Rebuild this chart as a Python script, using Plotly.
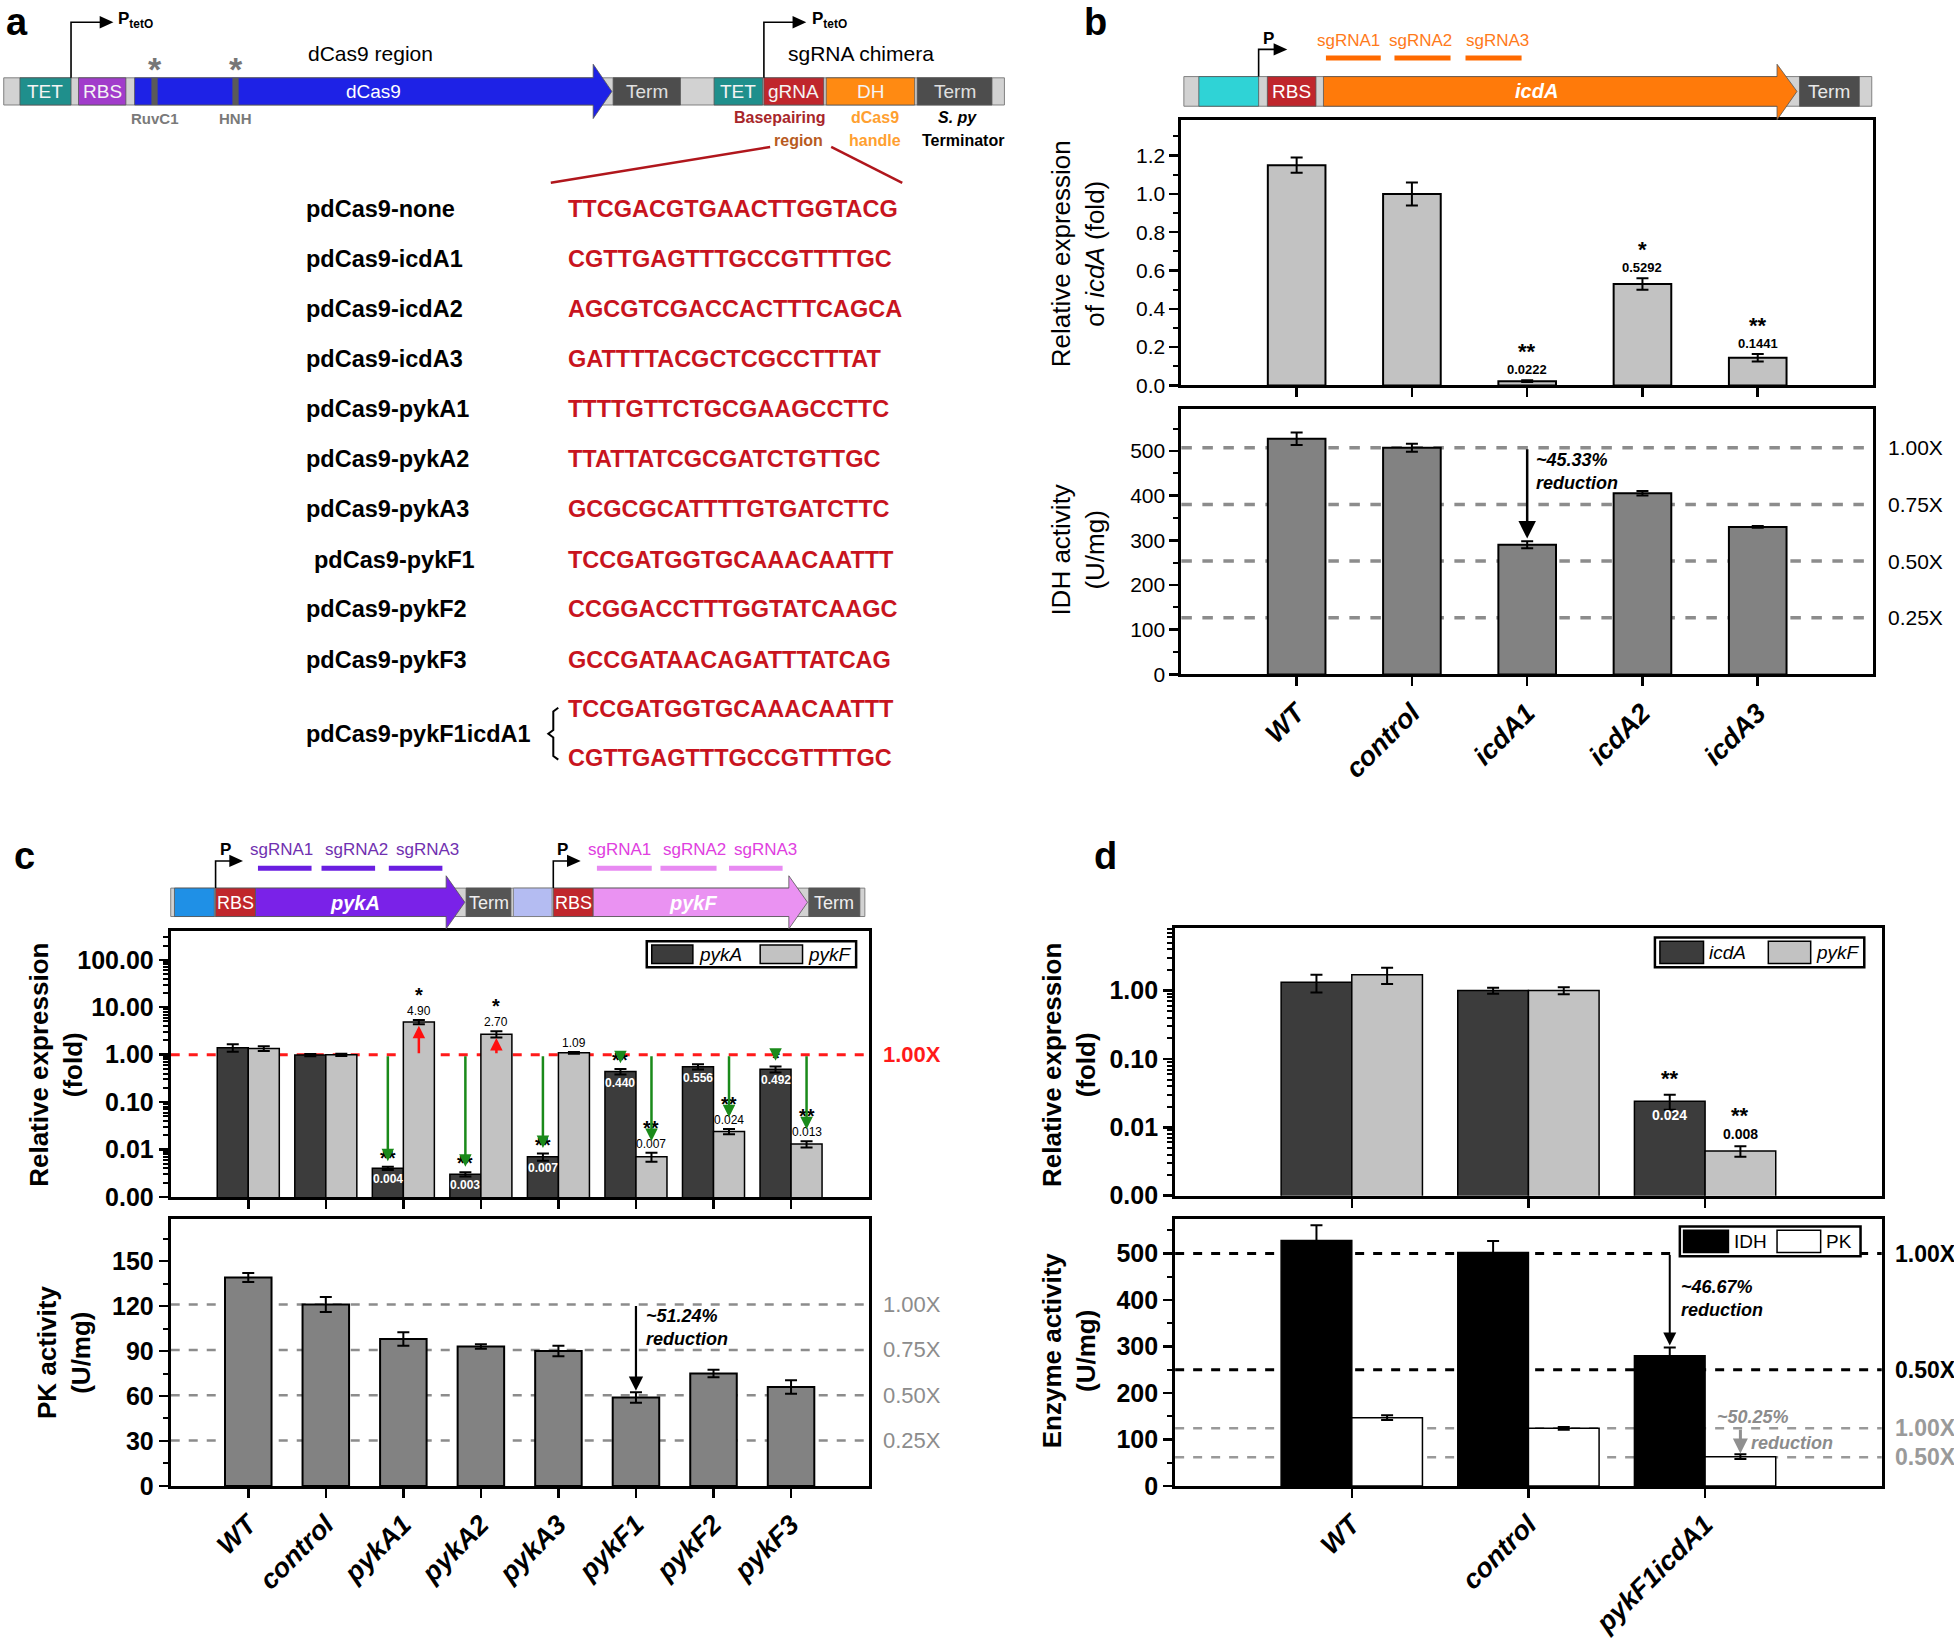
import math
import plotly.graph_objects as go

# ============================ DATA ============================
# panel a : spacer table
strain_names = ['pdCas9-none', 'pdCas9-icdA1', 'pdCas9-icdA2', 'pdCas9-icdA3', 'pdCas9-pykA1',
                'pdCas9-pykA2', 'pdCas9-pykA3', 'pdCas9-pykF1', 'pdCas9-pykF2', 'pdCas9-pykF3']
spacer_seqs = ['TTCGACGTGAACTTGGTACG', 'CGTTGAGTTTGCCGTTTTGC', 'AGCGTCGACCACTTTCAGCA',
               'GATTTTACGCTCGCCTTTAT', 'TTTTGTTCTGCGAAGCCTTC', 'TTATTATCGCGATCTGTTGC',
               'GCGCGCATTTTGTGATCTTC', 'TCCGATGGTGCAAACAATTT', 'CCGGACCTTTGGTATCAAGC',
               'GCCGATAACAGATTTATCAG']
double_name = 'pdCas9-pykF1icdA1'
double_seqs = ['TCCGATGGTGCAAACAATTT', 'CGTTGAGTTTGCCGTTTTGC']

# panel b
cats_b = ['WT', 'control', 'icdA1', 'icdA2', 'icdA3']
icdA_expr_b = [1.15, 1.00, 0.0222, 0.5292, 0.1441]
icdA_expr_b_err = [0.04, 0.06, 0.004, 0.03, 0.02]
icdA_expr_b_lbl = ['', '', '0.0222', '0.5292', '0.1441']
icdA_expr_b_sig = ['', '', '**', '*', '**']
idh_act_b = [527, 507, 290, 405, 330]
idh_act_b_err = [14, 9, 8, 5, 2]
fold_marks = [1.00, 0.75, 0.50, 0.25]
fold_labels = ['1.00X', '0.75X', '0.50X', '0.25X']

# panel c
cats_c = ['WT', 'control', 'pykA1', 'pykA2', 'pykA3', 'pykF1', 'pykF2', 'pykF3']
pykA_expr_c = [1.40, 0.98, 0.004, 0.003, 0.007, 0.440, 0.556, 0.492]
pykA_expr_c_err = [0.25, 0.05, 0.0003, 0.0003, 0.0012, 0.06, 0.07, 0.07]
pykA_lbl_c = ['', '', '0.004', '0.003', '0.007', '0.440', '0.556', '0.492']
pykA_sig_c = ['', '', '**', '**', '**', '**', '', '*']
pykF_expr_c = [1.35, 0.99, 4.90, 2.70, 1.09, 0.007, 0.024, 0.013]
pykF_expr_c_err = [0.15, 0.05, 0.5, 0.4, 0.05, 0.0015, 0.003, 0.002]
pykF_lbl_c = ['', '', '4.90', '2.70', '1.09', '0.007', '0.024', '0.013']
pykF_sig_c = ['', '', '*', '*', '', '**', '**', '**']
pk_act_c = [139, 121, 98, 93, 90, 59, 75, 66]
pk_act_c_err = [3, 5, 4.5, 1.5, 3.5, 3.5, 2.5, 4.5]

# panel d
cats_d = ['WT', 'control', 'pykF1icdA1']
icdA_expr_d = [1.32, 1.00, 0.024]
icdA_expr_d_err = [0.38, 0.10, 0.006]
icdA_lbl_d = ['', '', '0.024']
icdA_sig_d = ['', '', '**']
pykF_expr_d = [1.70, 1.00, 0.0045]
pykF_expr_d_err = [0.45, 0.12, 0.0008]
pykF_lbl_d = ['', '', '0.008']
pykF_sig_d = ['', '', '**']
idh_act_d = [528, 502, 280]
idh_act_d_err = [33, 25, 18]
pk_act_d = [147, 124, 63]
pk_act_d_err = [5, 3, 5]
fold_marks_d = [1.00, 0.50]
fold_labels_d = ['1.00X', '0.50X']

# ============================ HELPERS ============================
W, H = 1954, 1642
DW, DH = 1568, 1318
SANS = 'Liberation Sans, Arial, sans-serif'
NARROW = 'Liberation Sans Narrow, Arial Narrow, Liberation Sans, Arial, sans-serif'
L = math.log10


def X(x):
    return x / DW


def Y(y):
    return 1 - y / DH


shapes = []
annots = []


def rect(x0, y0, x1, y1, fill, line='rgba(0,0,0,0)', lw=0):
    shapes.append(dict(type='rect', xref='paper', yref='paper', x0=X(x0), x1=X(x1), y0=Y(y1), y1=Y(y0),
                       fillcolor=fill, line=dict(color=line, width=lw), layer='above'))


def poly(pts, fill, line='rgba(0,0,0,0)', lw=0, closed=True):
    path = 'M ' + ' L '.join('%.5f,%.5f' % (X(a), Y(b)) for a, b in pts) + (' Z' if closed else '')
    shapes.append(dict(type='path', xref='paper', yref='paper', path=path,
                       fillcolor=fill, line=dict(color=line, width=lw), layer='above'))


def seg(x0, y0, x1, y1, color, width, dash=None):
    ln = dict(color=color, width=width)
    if dash:
        ln['dash'] = dash
    shapes.append(dict(type='line', xref='paper', yref='paper', x0=X(x0), x1=X(x1), y0=Y(y0), y1=Y(y1),
                       line=ln, layer='above'))


def text(x, y, s, size, color='black', weight='normal', style='normal', xanchor='center',
         yanchor='middle', family=SANS, angle=0, align='center'):
    annots.append(dict(xref='paper', yref='paper', x=X(x), y=Y(y), text=s, showarrow=False,
                       xanchor=xanchor, yanchor=yanchor, textangle=angle, align=align,
                       font=dict(family=family, size=size, color=color, weight=weight, style=style)))


def promoter(x, ybar, ytop, xend, label=None, lx=0, lsize=16):
    poly([(x, ybar), (x, ytop), (xend, ytop)], 'rgba(0,0,0,0)', 'black', 1.6, closed=False)
    poly([(xend - 2, ytop - 5), (xend + 9, ytop), (xend - 2, ytop + 5)], 'black')
    if label:
        text(lx, ytop - 2, label, lsize, weight='bold', xanchor='left')


def gene_arrow(x0, x1, xa, y0, y1, yt, yb, fill):
    ym = (y0 + y1) / 2
    poly([(x0, y0), (x1, y0), (x1, yt), (xa, ym), (x1, yb), (x1, y1), (x0, y1)], fill, '#555', 0.8)


# ============================ PANEL a ============================
text(14, 18, 'a', 38, weight='bold')
rect(3, 63, 806, 85, '#d2d2d2', '#808080', 1)
for lbl, a, b, col in [('TET', 16, 57, '#1f8f8c'), ('RBS', 63, 101, '#a13ccb'), ('Term', 492, 546, '#4d4d4d'),
                       ('TET', 573, 612, '#1f8f8c'), ('gRNA', 613, 661, '#c0262c'), ('DH', 663, 734, '#ff8a12'),
                       ('Term', 736, 796, '#4d4d4d')]:
    rect(a, 63, b, 85, col, '#555', 0.8)
    text((a + b) / 2, 74, lbl, 19, color='#f4f4f4' if lbl != 'Term' else '#e0e0e0', family=NARROW)
gene_arrow(108, 476, 491, 63, 85, 52, 96, '#1e22e6')
text(300, 74, 'dCas9', 19, color='white', family=NARROW)
for mx, ml in [(124, 'RuvC1'), (189, 'HNH')]:
    rect(mx - 2.5, 63, mx + 2.5, 85, '#5a5a5a')
    text(mx, 56, '*', 34, color='#777777', weight='bold')
    text(mx, 96, ml, 15, color='#7a7a7a', weight='bold', family=NARROW)
promoter(57, 63, 18, 82, 'P<sub>tetO</sub>', 93, 17)
promoter(613, 63, 18, 638, 'P<sub>tetO</sub>', 650, 17)
text(297, 43, 'dCas9 region', 21)
text(691, 43, 'sgRNA chimera', 21)
text(626, 95, 'Basepairing', 16, color='#a8262a', weight='bold', family=NARROW)
text(641, 114, 'region', 16, color='#b85a1e', weight='bold', family=NARROW)
text(702, 95, 'dCas9', 16, color='#ffa030', weight='bold', family=NARROW)
text(702, 114, 'handle', 16, color='#ffa030', weight='bold', family=NARROW)
text(768, 95, '<i>S. py</i>', 16, weight='bold', family=NARROW)
text(773, 114, 'Terminator', 16, weight='bold', family=NARROW)
seg(442, 148, 618, 119, '#b0161c', 2.5)
seg(667, 119, 724, 148, '#b0161c', 2.5)

row_y = [169, 210, 250, 291, 331, 372, 412, 453, 493, 534]
for i, (nm, sq) in enumerate(zip(strain_names, spacer_seqs)):
    text(244 if nm != 'pdCas9-pykF1' else 250, row_y[i], nm, 23.5, weight='bold', xanchor='left')
    text(454, row_y[i], sq, 23.5, color='#c8141e', weight='bold', xanchor='left')
text(244, 594, double_name, 23.5, weight='bold', xanchor='left')
text(454, 574, double_seqs[0], 23.5, color='#c8141e', weight='bold', xanchor='left')
text(454, 614, double_seqs[1], 23.5, color='#c8141e', weight='bold', xanchor='left')
poly([(448, 573), (444, 576), (444, 591), (440, 594), (444, 597), (444, 612), (448, 615)],
     'rgba(0,0,0,0)', 'black', 2, closed=False)

# ============================ PANEL b diagram ============================
text(879, 18, 'b', 38, weight='bold')
rect(950, 62, 1502, 86, '#d2d2d2', '#808080', 1)
rect(962, 62, 1010, 86, '#2fd3d6', '#555', 0.8)
rect(1017, 62, 1056, 86, '#c0262c', '#555', 0.8)
text(1036, 74, 'RBS', 19, color='white', family=NARROW)
gene_arrow(1062, 1426, 1442, 62, 86, 52, 97, '#ff7a0a')
text(1233, 74, 'icdA', 20, color='white', weight='bold', style='italic', family=NARROW)
rect(1444, 62, 1492, 86, '#4d4d4d', '#555', 0.8)
text(1468, 74, 'Term', 19, color='#e8e8e8', family=NARROW)
promoter(1010, 62, 40, 1024)
text(1018, 31, 'P', 17, weight='bold')
for cx, lb in zip([1082, 1140, 1202], ['sgRNA1', 'sgRNA2', 'sgRNA3']):
    text(cx, 33, lb, 17, color='#ff7a1a', family=NARROW)
for a, b in [(1064, 1108), (1119, 1164), (1176, 1221)]:
    seg(a, 47, b, 47, '#ff6a00', 5)

# ============================ PANEL c diagram ============================
text(20, 693, 'c', 38, weight='bold')
rect(137, 719, 694, 742, '#d2d2d2', '#808080', 1)
rect(140, 719, 172, 742, '#1f90e6', '#555', 0.8)
for a in (173, 444):
    rect(a, 719, a + 32, 742, '#c0262c', '#555', 0.8)
    text(a + 16, 731, 'RBS', 18, color='white', family=NARROW)
gene_arrow(205, 358, 373, 719, 742, 709, 752, '#7a22e8')
text(285, 731, 'pykA', 20, color='white', weight='bold', style='italic', family=NARROW)
rect(374, 719, 410, 742, '#555555', '#555', 0.8)
text(392, 731, 'Term', 18, color='#eeeeee', family=NARROW)
rect(412, 719, 443, 742, '#b4bcf2', '#777', 0.8)
gene_arrow(476, 633, 648, 719, 742, 709, 752, '#ea92f2')
text(556, 731, 'pykF', 20, color='white', weight='bold', style='italic', family=NARROW)
rect(649, 719, 690, 742, '#555555', '#555', 0.8)
text(669, 731, 'Term', 18, color='#eeeeee', family=NARROW)
promoter(173, 719, 697, 186)
text(181, 688, 'P', 17, weight='bold')
promoter(444, 719, 697, 457)
text(451, 688, 'P', 17, weight='bold')
for cx, lb in zip([226, 286, 343], ['sgRNA1', 'sgRNA2', 'sgRNA3']):
    text(cx, 688, lb, 17, color='#7030b0', family=NARROW)
for cx, lb in zip([497, 557, 614], ['sgRNA1', 'sgRNA2', 'sgRNA3']):
    text(cx, 688, lb, 17, color='#e040e0', family=NARROW)
for a, b in [(207, 250), (258, 301), (312, 355)]:
    seg(a, 703, b, 703, '#6a1ee0', 5)
for a, b in [(479, 523), (530, 575), (585, 628)]:
    seg(a, 703, b, 703, '#e88af2', 5)

text(887, 693, 'd', 38, weight='bold')

# ============================ CHARTS ============================
fig = go.Figure()
AX = dict(showline=True, linecolor='black', linewidth=3, mirror=True, ticks='outside', tickcolor='black',
          tickwidth=2.5, ticklen=9, showgrid=False, zeroline=False, fixedrange=True)
TICKX = dict(family=SANS, size=27, color='black', weight='bold', style='italic')
TICKY_B = dict(family=SANS, size=21, color='black')
TICKY_CD = dict(family=NARROW, size=25, color='black', weight='bold')

layout_axes = {}


def add_axes(k, xd, yd, cats, yrange, ytick, ytext, yfont, minor, show_x=False, ytype='linear'):
    n = len(cats)
    xa = dict(AX, domain=[X(xd[0]), X(xd[1])], anchor='y' + k, range=[-1, n],
              tickmode='array', tickvals=list(range(n)), ticktext=cats,
              showticklabels=show_x, tickangle=-45, tickfont=TICKX)
    ya = dict(AX, domain=[Y(yd[1]), Y(yd[0])], anchor='x' + k, range=yrange, type=ytype,
              tickmode='array', tickvals=ytick, ticktext=ytext, tickfont=yfont,
              minor=dict(ticks='outside', ticklen=5, tickwidth=2, tickcolor='black', **minor))
    layout_axes['xaxis' + k] = xa
    layout_axes['yaxis' + k] = ya


def bar(k, xs, ys, err, color, width, offset, lw=2, errcolor='black'):
    fig.add_trace(go.Bar(x=xs, y=ys, width=width, offset=offset,
                         marker=dict(color=color, line=dict(color='black', width=lw)),
                         error_y=dict(type='data', array=err, color=errcolor, thickness=2, width=6),
                         xaxis='x' + k, yaxis='y' + k, showlegend=False, hoverinfo='skip'))


def ref(k):
    return ('x' + k, 'y' + k)


def dtext(k, x, y, s, size, color='black', weight='bold', style='normal', family=NARROW,
          xanchor='center', yanchor='bottom', yshift=0, align='center'):
    xr, yr = ref(k)
    annots.append(dict(xref=xr, yref=yr, x=x, y=y, text=s, showarrow=False, xanchor=xanchor,
                       yanchor=yanchor, yshift=yshift, align=align,
                       font=dict(family=family, size=size, color=color, weight=weight, style=style)))


def darrow(k, x, y_from, y_to, color, width=2.5, head=2, size=1.0):
    xr, yr = ref(k)
    annots.append(dict(xref=xr, yref=yr, axref=xr, ayref=yr, x=x, y=y_to, ax=x, ay=y_from, text='',
                       showarrow=True, arrowhead=head, arrowsize=size, arrowwidth=width, arrowcolor=color))


def hline(k, v, color, width, dash='dash'):
    shapes.append(dict(type='line', xref='x%s domain' % k, yref='y' + k, x0=0, x1=1, y0=v, y1=v,
                       line=dict(color=color, width=width, dash=dash), layer='below'))


def rlabel(k, v, s, color, size=21, weight='normal', family=SANS, xpos=1.062):
    annots.append(dict(xref='x%s domain' % k, yref='y' + k, x=xpos, y=v, text=s, showarrow=False,
                       xanchor='center', yanchor='middle',
                       font=dict(family=family, size=size, color=color, weight=weight)))


def ytitle(x, y, s, weight='bold', size=26):
    text(x, y, s, size, weight=weight, angle=-90, family=SANS)


def legend_box(x0, x1, y0, y1, items, italic=True):
    rect(x0, y0, x1, y1, 'white', 'black', 2.5)
    for (a, b, c, fill, lab) in items:
        rect(a, y0 + 3, b, y1 - 3, fill, 'black', 1.5)
        text(c, (y0 + y1) / 2, lab, 19, xanchor='left', family=NARROW,
             style='italic' if italic else 'normal')


# ---------- b top ----------
xb = list(range(len(cats_b)))
add_axes('', (948, 1503), (97, 312), cats_b, [0, 1.387], [0, 0.2, 0.4, 0.6, 0.8, 1.0, 1.2],
         ['0.0', '0.2', '0.4', '0.6', '0.8', '1.0', '1.2'], TICKY_B, dict(dtick=0.1))
bar('', xb, icdA_expr_b, icdA_expr_b_err, '#c2c2c2', 0.5, -0.25)
for i in xb:
    if icdA_expr_b_lbl[i]:
        top = icdA_expr_b[i] + icdA_expr_b_err[i]
        dtext('', i, top, icdA_expr_b_lbl[i], 13, yshift=1)
        dtext('', i, top, icdA_expr_b_sig[i], 22, family=SANS, yshift=14)
ytitle(865, 205, 'Relative expression<br>of <i>icdA</i> (fold)', weight='normal')

# ---------- b bottom ----------
add_axes('2', (948, 1503), (331, 546), cats_b, [0, 594], [0, 100, 200, 300, 400, 500],
         ['0', '100', '200', '300', '400', '500'], TICKY_B, dict(dtick=50), show_x=True)
for f, lab in zip(fold_marks, fold_labels):
    hline('2', idh_act_b[1] * f, '#8c8c8c', 3.5)
    rlabel('2', idh_act_b[1] * f, lab, 'black')
bar('2', xb, idh_act_b, idh_act_b_err, '#828282', 0.5, -0.25)
darrow('2', 2, idh_act_b[1], idh_act_b[2] + idh_act_b_err[2] + 6, 'black', 2.5, 2, 1.4)
dtext('2', 2.06, (idh_act_b[1] + idh_act_b[2]) / 2 + 55, '~45.33%<br>reduction', 18, style='italic',
      xanchor='left', yanchor='middle', align='left')
ytitle(865, 445, 'IDH activity<br>(U/mg)', weight='normal')

# ---------- c top ----------
xc = list(range(len(cats_c)))
add_axes('3', (137, 697), (754, 969), cats_c, [-3, 2.6], [0.001, 0.01, 0.1, 1, 10, 100],
         ['0.00', '0.01', '0.10', '1.00', '10.00', '100.00'], TICKY_CD, dict(dtick='D1'), ytype='log')
hline('3', 1.0, '#ff1a1a', 3)
rlabel('3', L(1.0), '1.00X', '#ff1a1a', size=22, weight='bold')
bar('3', xc, pykA_expr_c, pykA_expr_c_err, '#3c3c3c', 0.4, -0.4, lw=1.5)
bar('3', xc, pykF_expr_c, pykF_expr_c_err, '#c2c2c2', 0.4, 0.0, lw=1.5)
for i in xc[2:]:
    xa_, xf_ = i - 0.2, i + 0.2
    va, vf = pykA_expr_c[i], pykF_expr_c[i]
    ta = L(va + pykA_expr_c_err[i])
    tf = L(vf + pykF_expr_c_err[i])
    if pykA_lbl_c[i]:
        dtext('3', xa_, L(va), pykA_lbl_c[i], 12, color='white', yanchor='top', yshift=-2)
    if pykA_sig_c[i]:
        dtext('3', xa_, ta, pykA_sig_c[i], 20, family=SANS, yshift=-4)
    if va < 0.9:
        darrow('3', xa_, 0, ta + 0.12, '#1a8a1a', 2.5, 2, 1.0)
    if pykF_lbl_c[i]:
        dtext('3', xf_, tf, pykF_lbl_c[i], 12, weight='normal', yshift=0)
    if pykF_sig_c[i]:
        dtext('3', xf_, tf, pykF_sig_c[i], 20, family=SANS, yshift=12)
    if vf < 0.9:
        darrow('3', xf_, 0, tf + 0.25, '#1a8a1a', 2.5, 2, 1.0)
    elif vf > 1.5:
        darrow('3', xf_, 0, L(vf) - 0.08, '#ff1010', 2.5, 2, 1.0)
legend_box(519, 687, 762, 783, [(523, 556, 559, '#3c3c3c', 'pykA'), (610, 644, 647, '#c2c2c2', 'pykF')])
ytitle(45, 862, 'Relative expression<br>(fold)')

# ---------- c bottom ----------
add_axes('4', (137, 697), (987, 1203), cats_c, [0, 178], [0, 30, 60, 90, 120, 150],
         ['0', '30', '60', '90', '120', '150'], TICKY_CD, dict(dtick=15), show_x=True)
for f, lab in zip(fold_marks, fold_labels):
    hline('4', pk_act_c[1] * f, '#8c8c8c', 2.5)
    rlabel('4', pk_act_c[1] * f, lab, '#8c8c8c', family=NARROW, size=22)
bar('4', xc, pk_act_c, pk_act_c_err, '#828282', 0.6, -0.3)
darrow('4', 5, pk_act_c[1], pk_act_c[5] + pk_act_c_err[5] + 1, 'black', 2.2, 2, 1.3)
dtext('4', 5.1, 106, '~51.24%<br>reduction', 18, style='italic', xanchor='left', yanchor='middle',
      align='left')
ytitle(51, 1095, 'PK activity<br>(U/mg)')

# ---------- d top ----------
xd = list(range(len(cats_d)))
add_axes('5', (943, 1510), (751, 968), cats_d, [-3, 0.92], [0.001, 0.01, 0.1, 1],
         ['0.00', '0.01', '0.10', '1.00'], TICKY_CD, dict(dtick='D1'), ytype='log')
bar('5', xd, icdA_expr_d, icdA_expr_d_err, '#3c3c3c', 0.4, -0.4, lw=1.5)
bar('5', xd, pykF_expr_d, pykF_expr_d_err, '#c2c2c2', 0.4, 0.0, lw=1.5)
for i in xd:
    if icdA_lbl_d[i]:
        dtext('5', i - 0.2, L(icdA_expr_d[i]), icdA_lbl_d[i], 14, color='white', yanchor='top', yshift=-4)
        dtext('5', i - 0.2, L(icdA_expr_d[i] + icdA_expr_d_err[i]), icdA_sig_d[i], 22, family=SANS, yshift=2)
    if pykF_lbl_d[i]:
        t = L(pykF_expr_d[i] + pykF_expr_d_err[i])
        dtext('5', i + 0.2, t, pykF_lbl_d[i], 14, yshift=2)
        dtext('5', i + 0.2, t, pykF_sig_d[i], 22, family=SANS, yshift=16)
legend_box(1328, 1496, 759, 783, [(1332, 1367, 1370, '#3c3c3c', 'icdA'), (1419, 1453, 1456, '#c2c2c2', 'pykF')])
ytitle(858, 862, 'Relative expression<br>(fold)')

# ---------- d bottom ----------
add_axes('6', (943, 1510), (987, 1203), cats_d, [0, 574], [0, 100, 200, 300, 400, 500],
         ['0', '100', '200', '300', '400', '500'], TICKY_CD, dict(dtick=50), show_x=True)
for f, lab in zip(fold_marks_d, fold_labels_d):
    hline('6', 500 * f, 'black', 3)
    rlabel('6', 500 * f, lab, 'black', size=23, weight='bold', family=NARROW)
    hline('6', pk_act_d[1] * f, '#999999', 2.5)
    rlabel('6', pk_act_d[1] * f, lab, '#9a9a9a', size=23, weight='bold', family=NARROW)
bar('6', xd, idh_act_d, idh_act_d_err, 'black', 0.4, -0.4, lw=1.5)
bar('6', xd, pk_act_d, pk_act_d_err, 'white', 0.4, 0.0, lw=1.5)
darrow('6', 1.8, 500, idh_act_d[2] + idh_act_d_err[2] + 4, 'black', 2, 2, 1.3)
dtext('6', 1.85, 403, '~46.67%<br>reduction', 18, style='italic', xanchor='left', yanchor='middle',
      align='left')
darrow('6', 2.2, pk_act_d[1], pk_act_d[2] + pk_act_d_err[2] + 2, '#909090', 3, 2, 1.0)
dtext('6', 2.27, 149, '~50.25%', 18, color='#8c8c8c', style='italic', yanchor='middle')
dtext('6', 2.25, 93, 'reduction', 18, color='#8c8c8c', style='italic', xanchor='left', yanchor='middle')
legend_box(1348, 1493, 993, 1017, [(1351, 1387, 1390, 'black', 'IDH'), (1426, 1461, 1464, 'white', 'PK')],
           italic=False)
ytitle(858, 1093, 'Enzyme activity<br>(U/mg)')

fig.update_layout(width=W, height=H, margin=dict(l=0, r=0, t=0, b=0), autosize=False,
                  paper_bgcolor='white', plot_bgcolor='white', barmode='overlay',
                  shapes=shapes, annotations=annots, showlegend=False, **layout_axes)

fig.write_html('out.html', config={'displayModeBar': False, 'staticPlot': True},
               post_script="document.body.style.margin='0';document.body.style.overflow='hidden';")
